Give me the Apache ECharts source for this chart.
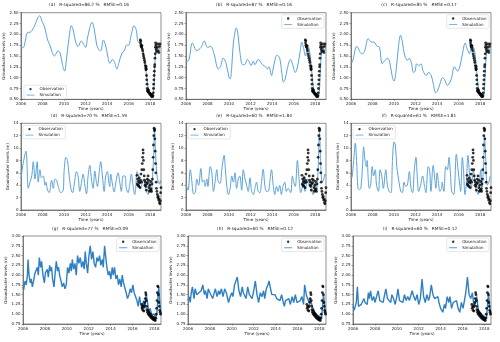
<!DOCTYPE html>
<html>
<head>
<meta charset="utf-8">
<script src="https://cdn.jsdelivr.net/npm/echarts@6/dist/echarts.min.js"></script>
<style>html,body{margin:0;padding:0;background:#fff}#c{width:500px;height:342px}</style>
</head>
<body>
<div id="c"></div>
<script>
// ---------------- DATA ----------------
const xTicks = [2006, 2008, 2010, 2012, 2014, 2016, 2018];

const titles = [
  '(a)   R-squared=86.2 %   RMSE=0.16',
  '(b)   R-squared=87 %   RMSE=0.16',
  '(c)   R-squared=85 %   RMSE=0.17',
  '(d)   R-squared=70 %   RMSE=1.59',
  '(e)   R-squared=60 %   RMSE=1.84',
  '(f)   R-squared=61 %   RMSE=1.81',
  '(g)   R-squared=77 %   RMSE=0.09',
  '(h)   R-squared=60 %   RMSE=0.12',
  '(i)   R-squared=60 %   RMSE=0.12'
];

// Observations (same well records per row)
const obsRow1 = [[2017.08,1.87],[2017.10,1.80],[2017.12,1.85],[2017.14,1.75],[2017.17,1.72],[2017.20,1.70],[2017.23,1.74],[2017.26,1.66],[2017.30,1.62],[2017.34,1.55],[2017.38,1.50],[2017.42,1.45],[2017.46,1.40],[2017.50,1.35],[2017.54,1.28],[2017.58,1.22],[2017.60,1.18],[2017.62,1.26],[2017.64,1.20],[2017.66,1.05],[2017.68,0.95],[2017.70,0.85],[2017.72,0.75],[2017.74,0.70],[2017.77,0.68],[2017.80,0.72],[2017.83,0.66],[2017.86,0.70],[2017.90,0.65],[2017.94,0.62],[2017.98,0.64],[2018.02,0.60],[2018.06,0.62],[2018.10,0.58],[2018.14,0.56],[2018.18,0.60],[2018.22,0.56],[2018.26,0.58],[2018.28,0.65],[2018.30,0.75],[2018.32,0.85],[2018.34,0.95],[2018.36,1.05],[2018.38,1.15],[2018.40,1.25],[2018.42,1.30],[2018.44,1.45],[2018.46,1.55],[2018.48,1.70],[2018.50,1.80],[2018.53,1.75],[2018.56,1.65],[2018.60,1.60],[2018.65,1.70],[2018.70,1.78],[2018.75,1.62],[2018.80,1.58],[2018.85,1.72],[2018.90,1.78]];

const obsRow2 = [[2016.77,5.6],[2016.80,4.2],[2016.83,5.0],[2016.86,4.0],[2016.90,4.6],[2016.94,3.8],[2016.98,5.2],[2017.02,4.4],[2017.06,3.6],[2017.10,4.8],[2017.14,5.8],[2017.18,4.5],[2017.22,6.5],[2017.26,7.5],[2017.30,8.5],[2017.33,9.7],[2017.35,9.2],[2017.37,8.0],[2017.40,6.5],[2017.44,5.5],[2017.48,4.8],[2017.52,4.0],[2017.56,4.5],[2017.60,3.8],[2017.64,3.2],[2017.68,4.2],[2017.72,5.0],[2017.76,4.4],[2017.80,5.5],[2017.84,4.8],[2017.88,3.6],[2017.92,3.0],[2017.96,4.0],[2018.00,3.2],[2018.04,4.6],[2018.08,3.4],[2018.12,3.0],[2018.16,4.2],[2018.20,5.0],[2018.24,6.5],[2018.27,8.5],[2018.30,10.5],[2018.33,12.0],[2018.36,13.2],[2018.39,12.8],[2018.41,13.0],[2018.43,11.5],[2018.46,9.5],[2018.49,7.5],[2018.52,6.0],[2018.55,4.5],[2018.58,3.5],[2018.62,3.0],[2018.66,2.5],[2018.70,2.0],[2018.74,2.2],[2018.78,1.6],[2018.82,1.8],[2018.86,1.2],[2018.90,1.0],[2018.94,1.5],[2018.97,2.8],[2019.0,3.6]];

const obsRow3 = [[2016.85,1.25],[2016.88,1.15],[2016.92,1.20],[2016.96,1.10],[2017.00,1.18],[2017.04,1.08],[2017.08,1.22],[2017.12,1.30],[2017.16,1.40],[2017.20,1.55],[2017.23,1.50],[2017.26,1.35],[2017.29,1.20],[2017.32,1.12],[2017.36,1.05],[2017.40,1.10],[2017.44,1.00],[2017.48,1.05],[2017.52,0.98],[2017.56,1.02],[2017.60,0.95],[2017.64,1.00],[2017.68,0.92],[2017.72,0.96],[2017.76,0.90],[2017.80,0.94],[2017.84,0.88],[2017.88,0.92],[2017.92,0.86],[2017.96,0.90],[2018.00,0.85],[2018.04,0.88],[2018.08,0.84],[2018.12,0.90],[2018.16,1.00],[2018.20,1.15],[2018.24,1.35],[2018.27,1.55],[2018.30,1.72],[2018.33,1.70],[2018.36,1.50],[2018.40,1.30],[2018.44,1.20],[2018.48,1.10],[2018.52,1.05],[2018.56,1.00]];

// Simulations
const simA = [[2006.0,1.70],[2006.2,1.69],[2006.4,1.85],[2006.6,2.04],[2006.85,2.05],[2007.05,2.10],[2007.3,2.22],[2007.55,2.38],[2007.75,2.43],[2007.95,2.30],[2008.15,2.20],[2008.35,2.00],[2008.5,1.85],[2008.7,1.74],[2008.9,1.58],[2009.1,1.50],[2009.45,1.62],[2009.65,1.55],[2009.85,1.30],[2010.05,1.15],[2010.2,1.38],[2010.45,1.90],[2010.68,2.20],[2010.85,2.10],[2011.05,1.85],[2011.3,1.72],[2011.6,1.85],[2011.75,1.80],[2012.0,1.70],[2012.2,1.95],[2012.6,2.28],[2012.8,2.12],[2013.0,1.80],[2013.2,1.65],[2013.4,1.62],[2013.65,1.87],[2013.85,1.75],[2014.05,1.50],[2014.25,1.33],[2014.5,1.42],[2014.7,1.35],[2014.9,1.20],[2015.1,1.35],[2015.35,1.55],[2015.6,1.63],[2015.8,1.75],[2016.0,1.75],[2016.2,1.95],[2016.5,2.20],[2016.7,2.10],[2016.9,1.82],[2017.1,1.82],[2017.3,1.65],[2017.5,1.35],[2017.7,0.95],[2017.9,0.68],[2018.1,0.60],[2018.3,0.62],[2018.45,1.40],[2018.6,1.72],[2018.8,1.65],[2018.95,1.75]];

const simB = [[2006.0,1.37],[2006.25,1.40],[2006.6,1.80],[2007.0,1.62],[2007.4,1.70],[2007.7,1.85],[2008.0,1.70],[2008.3,1.72],[2008.6,1.55],[2009.0,1.20],[2009.2,1.25],[2009.45,1.45],[2009.7,1.35],[2010.0,1.00],[2010.1,0.97],[2010.25,1.25],[2010.4,1.80],[2010.68,2.15],[2010.8,2.05],[2011.0,1.60],[2011.25,1.30],[2011.45,1.30],[2011.7,1.42],[2011.85,1.38],[2012.05,1.28],[2012.25,1.38],[2012.4,1.30],[2012.7,1.42],[2013.1,1.30],[2013.4,1.25],[2013.55,1.20],[2013.7,1.25],[2013.95,1.05],[2014.05,1.15],[2014.3,1.45],[2014.45,1.52],[2014.7,1.45],[2014.9,1.10],[2015.05,0.90],[2015.2,0.95],[2015.4,1.20],[2015.7,1.42],[2015.9,1.30],[2016.15,1.12],[2016.35,1.25],[2016.6,1.60],[2016.75,1.82],[2016.9,1.70],[2017.1,1.50],[2017.3,1.75],[2017.45,1.65],[2017.6,1.35],[2017.75,0.95],[2017.9,0.68],[2018.1,0.62],[2018.3,0.60],[2018.45,1.00],[2018.55,1.50],[2018.7,1.72],[2018.85,1.60],[2018.95,1.75]];

const simC = [[2006.0,1.33],[2006.15,1.38],[2006.55,1.72],[2007.0,1.55],[2007.25,1.60],[2007.6,1.90],[2007.9,1.82],[2008.15,1.82],[2008.45,1.72],[2008.6,1.72],[2008.9,1.32],[2009.1,1.38],[2009.4,1.45],[2009.6,1.35],[2009.85,1.00],[2010.0,0.92],[2010.2,1.20],[2010.4,1.70],[2010.6,1.98],[2010.75,1.85],[2011.0,1.50],[2011.25,1.40],[2011.4,1.45],[2011.6,1.35],[2011.8,1.12],[2011.95,1.15],[2012.1,1.32],[2012.3,1.28],[2012.5,1.32],[2012.7,1.15],[2013.0,1.05],[2013.2,1.12],[2013.45,1.05],[2013.65,0.85],[2013.85,0.65],[2014.0,0.68],[2014.25,0.85],[2014.5,1.00],[2014.7,0.95],[2014.95,0.82],[2015.2,0.90],[2015.35,1.00],[2015.6,1.25],[2015.9,1.15],[2016.1,1.25],[2016.35,1.55],[2016.6,1.80],[2016.8,1.65],[2017.0,1.55],[2017.2,1.75],[2017.45,1.65],[2017.6,1.35],[2017.75,0.95],[2017.9,0.68],[2018.1,0.62],[2018.3,0.60],[2018.45,1.00],[2018.55,1.50],[2018.7,1.72],[2018.85,1.60],[2018.95,1.75]];

const simD = [[2006.0,5.1],[2006.2,7.5],[2006.46,9.5],[2006.68,3.5],[2006.83,4.5],[2007.0,5.5],[2007.14,7.8],[2007.3,5.0],[2007.5,7.8],[2007.6,4.5],[2007.76,6.5],[2007.9,5.2],[2008.07,5.5],[2008.22,4.0],[2008.3,4.5],[2008.47,3.2],[2008.62,2.8],[2008.84,4.8],[2009.0,3.5],[2009.15,5.0],[2009.3,4.8],[2009.46,3.8],[2009.7,2.8],[2009.92,3.2],[2010.0,6.2],[2010.17,8.5],[2010.32,8.0],[2010.44,6.0],[2010.63,3.5],[2010.78,2.8],[2011.0,4.8],[2011.15,6.2],[2011.3,5.5],[2011.46,3.0],[2011.62,4.5],[2011.77,5.8],[2011.93,4.0],[2012.08,2.6],[2012.23,5.5],[2012.39,7.2],[2012.54,5.0],[2012.7,3.5],[2012.85,6.3],[2013.0,4.5],[2013.1,3.8],[2013.25,6.0],[2013.4,7.8],[2013.56,5.5],[2013.72,3.0],[2013.87,5.5],[2014.02,6.2],[2014.15,4.5],[2014.24,3.8],[2014.33,5.8],[2014.49,4.2],[2014.64,2.9],[2014.86,5.0],[2015.01,6.0],[2015.17,4.5],[2015.32,3.0],[2015.48,5.5],[2015.66,5.5],[2015.78,3.5],[2015.94,2.8],[2016.09,4.0],[2016.25,5.8],[2016.4,4.0],[2016.56,2.5],[2016.65,3.5],[2016.77,6.2],[2016.96,5.0],[2017.05,3.5],[2017.2,4.0],[2017.35,5.0],[2017.5,4.0],[2017.65,3.0],[2017.8,2.5],[2017.95,4.5],[2018.1,2.8],[2018.22,5.5],[2018.32,9.0],[2018.4,13.0],[2018.5,9.0],[2018.6,6.0],[2018.75,4.5],[2018.85,4.2],[2018.95,4.8],[2019.0,4.3]];

const simE = [[2006.0,4.2],[2006.18,3.2],[2006.4,6.5],[2006.55,4.5],[2006.7,2.6],[2006.86,2.8],[2007.0,5.0],[2007.17,4.0],[2007.38,6.7],[2007.54,4.5],[2007.66,4.8],[2007.78,3.8],[2007.94,5.0],[2008.03,3.8],[2008.25,7.0],[2008.4,6.0],[2008.55,3.0],[2008.7,4.5],[2008.86,6.5],[2009.0,4.5],[2009.17,4.3],[2009.32,6.5],[2009.54,8.8],[2009.66,6.5],[2009.78,4.0],[2009.94,2.5],[2010.1,3.5],[2010.25,5.5],[2010.4,4.5],[2010.55,6.0],[2010.7,3.5],[2010.86,5.0],[2011.0,5.5],[2011.17,3.2],[2011.32,6.5],[2011.48,5.0],[2011.63,4.0],[2011.78,3.0],[2011.94,5.2],[2012.1,3.0],[2012.25,2.5],[2012.4,3.5],[2012.55,4.5],[2012.7,3.0],[2012.86,2.8],[2013.0,4.3],[2013.17,6.6],[2013.32,4.0],[2013.48,3.0],[2013.63,3.0],[2013.78,4.5],[2013.94,6.5],[2014.1,4.0],[2014.25,2.5],[2014.4,3.8],[2014.55,3.0],[2014.7,4.0],[2014.86,2.5],[2015.0,3.8],[2015.17,4.5],[2015.32,3.0],[2015.48,3.5],[2015.72,2.8],[2015.88,5.5],[2016.0,4.5],[2016.15,3.8],[2016.34,8.0],[2016.5,5.0],[2016.65,2.8],[2016.77,3.5],[2016.95,5.5],[2017.05,3.0],[2017.3,5.0],[2017.45,4.0],[2017.6,3.5],[2017.8,2.5],[2018.0,4.5],[2018.1,3.0],[2018.25,6.0],[2018.4,12.5],[2018.5,8.0],[2018.65,4.5],[2018.8,5.0],[2018.9,5.8],[2019.0,5.5]];

const simF = [[2006.0,5.5],[2006.06,5.2],[2006.25,8.0],[2006.4,10.8],[2006.52,8.0],[2006.65,3.5],[2006.8,3.3],[2006.92,3.5],[2007.08,7.5],[2007.17,10.2],[2007.3,8.0],[2007.42,7.0],[2007.5,8.0],[2007.6,5.0],[2007.7,3.5],[2007.82,4.0],[2007.97,7.0],[2008.1,5.5],[2008.25,6.5],[2008.37,4.0],[2008.55,3.0],[2008.7,6.5],[2008.86,5.5],[2009.0,3.5],[2009.23,6.5],[2009.38,4.0],[2009.54,3.0],[2009.72,2.8],[2009.85,8.0],[2010.0,11.0],[2010.12,10.5],[2010.25,7.0],[2010.37,5.5],[2010.46,4.5],[2010.62,3.0],[2010.77,2.8],[2010.92,4.5],[2011.08,3.8],[2011.23,4.0],[2011.42,6.2],[2011.57,3.5],[2011.72,2.8],[2011.88,6.5],[2012.03,8.5],[2012.15,5.5],[2012.28,3.0],[2012.46,4.0],[2012.65,5.5],[2012.83,3.8],[2012.95,2.8],[2013.17,7.0],[2013.3,6.5],[2013.42,3.0],[2013.63,7.2],[2013.78,5.0],[2013.88,3.5],[2014.0,6.0],[2014.12,4.5],[2014.25,3.0],[2014.4,3.5],[2014.46,4.5],[2014.62,3.0],[2014.8,7.0],[2014.95,6.5],[2015.1,8.5],[2015.23,6.0],[2015.35,3.0],[2015.54,2.5],[2015.78,9.0],[2015.94,6.5],[2016.1,4.0],[2016.18,3.0],[2016.34,8.5],[2016.46,6.0],[2016.58,2.5],[2016.7,4.0],[2016.86,8.8],[2017.0,6.0],[2017.17,3.5],[2017.35,6.5],[2017.6,3.5],[2017.8,2.5],[2018.05,6.5],[2018.15,3.0],[2018.3,7.0],[2018.4,12.0],[2018.5,8.5],[2018.65,4.0],[2018.8,4.5],[2018.95,5.5],[2019.0,5.5]];

const simG = [[2006.0,1.70],[2006.06,1.62],[2006.18,1.85],[2006.3,1.75],[2006.4,2.0],[2006.46,2.4],[2006.55,2.0],[2006.67,1.8],[2006.76,1.9],[2006.85,1.7],[2006.97,1.85],[2007.09,2.05],[2007.22,2.1],[2007.31,2.2],[2007.4,2.0],[2007.49,2.45],[2007.61,2.2],[2007.7,2.35],[2007.82,2.0],[2007.95,1.8],[2008.04,2.05],[2008.13,2.0],[2008.22,2.15],[2008.31,1.95],[2008.43,2.25],[2008.52,2.1],[2008.61,2.2],[2008.7,1.9],[2008.83,1.7],[2008.92,2.0],[2009.04,2.35],[2009.16,2.1],[2009.25,2.2],[2009.34,2.0],[2009.47,1.85],[2009.59,1.7],[2009.71,1.8],[2009.83,1.65],[2009.95,1.75],[2010.07,2.2],[2010.19,2.05],[2010.32,2.3],[2010.41,2.1],[2010.5,2.4],[2010.62,2.15],[2010.74,2.3],[2010.86,2.0],[2010.98,2.5],[2011.1,2.3],[2011.23,2.45],[2011.35,2.2],[2011.47,2.35],[2011.59,2.15],[2011.68,2.6],[2011.78,2.3],[2011.9,2.05],[2012.02,2.5],[2012.14,2.75],[2012.26,2.4],[2012.38,2.6],[2012.5,2.3],[2012.63,2.2],[2012.75,2.45],[2012.87,2.35],[2012.99,2.5],[2013.11,2.25],[2013.23,2.4],[2013.33,2.2],[2013.45,2.75],[2013.54,2.5],[2013.66,2.2],[2013.78,2.0],[2013.9,2.1],[2014.02,1.9],[2014.15,2.2],[2014.24,2.0],[2014.36,2.2],[2014.48,1.9],[2014.6,2.0],[2014.72,1.75],[2014.84,1.9],[2014.97,1.7],[2015.06,2.0],[2015.18,1.8],[2015.3,1.85],[2015.42,1.55],[2015.54,1.4],[2015.67,1.5],[2015.79,1.65],[2015.91,1.55],[2016.03,1.75],[2016.15,1.55],[2016.27,1.6],[2016.4,1.35],[2016.52,1.2],[2016.64,1.45],[2016.76,1.25],[2016.88,1.1],[2017.0,1.35],[2017.12,1.15],[2017.25,1.5],[2017.37,1.3],[2017.49,1.05],[2017.61,1.15],[2017.73,1.0],[2017.85,0.95],[2017.98,1.0],[2018.1,0.9],[2018.22,1.0],[2018.34,1.5],[2018.4,1.7],[2018.49,1.3],[2018.58,1.0]];

const simH = [[2006.0,1.35],[2006.1,1.45],[2006.2,1.3],[2006.3,1.55],[2006.4,1.7],[2006.55,1.4],[2006.65,1.65],[2006.8,1.5],[2007.0,1.55],[2007.1,1.5],[2007.2,1.6],[2007.35,1.75],[2007.5,1.5],[2007.6,1.6],[2007.75,1.4],[2007.85,1.65],[2008.0,1.55],[2008.1,1.6],[2008.25,1.4],[2008.35,1.5],[2008.5,1.65],[2008.65,1.45],[2008.8,1.6],[2008.9,1.5],[2009.05,1.65],[2009.2,1.45],[2009.35,1.65],[2009.5,1.55],[2009.7,1.3],[2009.85,1.45],[2010.0,1.55],[2010.1,1.45],[2010.25,1.75],[2010.35,1.7],[2010.5,1.95],[2010.65,1.6],[2010.8,1.45],[2010.95,1.7],[2011.05,1.55],[2011.2,1.6],[2011.3,1.4],[2011.45,1.7],[2011.6,1.5],[2011.75,1.55],[2011.85,1.4],[2012.0,1.6],[2012.15,1.85],[2012.3,1.5],[2012.45,1.3],[2012.6,1.55],[2012.75,1.45],[2012.9,1.6],[2013.0,1.4],[2013.15,1.65],[2013.3,1.75],[2013.4,1.85],[2013.5,1.7],[2013.65,1.5],[2013.8,1.45],[2013.95,1.5],[2014.1,1.4],[2014.25,1.45],[2014.4,1.35],[2014.55,1.5],[2014.7,1.3],[2014.8,1.2],[2014.9,1.35],[2015.05,1.3],[2015.2,1.4],[2015.35,1.25],[2015.5,1.45],[2015.65,1.3],[2015.8,1.5],[2015.95,1.3],[2016.1,1.25],[2016.25,1.35],[2016.4,1.45],[2016.55,1.25],[2016.65,1.75],[2016.8,1.5],[2016.95,1.45],[2017.05,1.3],[2017.15,1.4],[2017.25,1.45],[2017.35,1.2],[2017.5,1.1],[2017.65,1.0],[2017.8,1.05],[2017.95,0.95],[2018.1,1.0],[2018.2,0.9],[2018.3,1.25],[2018.37,1.5],[2018.45,1.3],[2018.55,1.0]];

const simI = [[2006.0,1.2],[2006.1,1.1],[2006.2,1.2],[2006.3,1.3],[2006.4,1.7],[2006.5,1.2],[2006.6,1.15],[2006.75,1.25],[2006.9,1.3],[2007.0,1.4],[2007.1,1.3],[2007.2,1.35],[2007.3,1.25],[2007.4,1.55],[2007.5,1.4],[2007.6,1.6],[2007.75,1.35],[2007.9,1.45],[2008.0,1.3],[2008.15,1.45],[2008.3,1.6],[2008.45,1.35],[2008.6,1.4],[2008.75,1.3],[2008.85,1.45],[2009.0,1.65],[2009.15,1.4],[2009.3,1.45],[2009.45,1.3],[2009.55,1.5],[2009.7,1.4],[2009.85,1.25],[2010.0,1.45],[2010.1,1.65],[2010.25,1.35],[2010.4,1.4],[2010.55,1.3],[2010.7,1.5],[2010.85,1.35],[2011.0,1.45],[2011.15,1.35],[2011.3,1.5],[2011.4,1.6],[2011.55,1.45],[2011.7,1.35],[2011.85,1.5],[2012.0,1.25],[2012.15,1.4],[2012.3,1.9],[2012.45,1.45],[2012.6,1.3],[2012.75,1.5],[2012.9,1.35],[2013.0,1.45],[2013.15,1.75],[2013.3,1.5],[2013.45,1.4],[2013.6,1.35],[2013.75,1.45],[2013.85,1.3],[2014.0,1.15],[2014.1,1.2],[2014.2,1.05],[2014.35,1.25],[2014.45,1.15],[2014.6,1.45],[2014.75,1.3],[2014.85,1.45],[2015.0,1.15],[2015.15,1.3],[2015.3,1.25],[2015.45,1.35],[2015.6,1.15],[2015.75,1.05],[2015.9,1.3],[2016.05,1.15],[2016.15,1.1],[2016.3,1.55],[2016.45,1.95],[2016.6,1.5],[2016.75,1.4],[2016.9,1.55],[2017.05,1.2],[2017.2,1.3],[2017.3,1.45],[2017.45,1.1],[2017.6,1.05],[2017.75,1.0],[2017.95,0.95],[2018.1,1.0],[2018.2,0.9],[2018.3,1.3],[2018.37,1.55],[2018.45,1.25],[2018.55,1.0]];

// ---------------- LAYOUT / STYLE ----------------
const FONT = 'DejaVu Sans';
const sims = [simA, simB, simC, simD, simE, simF, simG, simH, simI];
const obsByRow = [obsRow1, obsRow2, obsRow3];
const legendPos = ['bl','tr','tr','tl','tl','tl','tr','tr','tr'];
const rowTop = [12.7, 123.3, 236];
const rowH = [86.6, 86.7, 88];
const colLeft = [[21,186,351],[21,186,351],[23,188,353]];
const colW = [140, 140, 138];
const yCfg = [
  {min:0.5, max:2.5, interval:0.25, dec:2},
  {min:0, max:14, interval:2, dec:0},
  {min:0.75, max:3.0, interval:0.25, dec:2}
];
const xMax = [2019, 2019, 2018.6];
const lineColor = ['#5aa2da','#5aa2da','#2f7fc4'];
const lineWidth = [1, 1, 1.4];
const LINE_ICON = 'path://M0,0h12v1.2h-12z';

const grids = [], xAxes = [], yAxes = [], series = [], titleArr = [], legends = [];
for (let i = 0; i < 9; i++) {
  const r = Math.floor(i / 3), c = i % 3;
  const L = colLeft[r][c], T = rowTop[r], W = colW[r], H = rowH[r];
  grids.push({left: L, top: T, width: W, height: H, show: true,
    borderColor: '#444', borderWidth: 0.6, backgroundColor: '#fff', containLabel: false});
  xAxes.push({type: 'value', gridIndex: i, min: 2006, max: xMax[r], interval: 2,
    name: 'Time (years)', nameLocation: 'middle', nameGap: 7.5,
    nameTextStyle: {fontSize: 4, fontFamily: FONT, color: '#222'},
    axisLine: {show: true, onZero: false, lineStyle: {color: '#444', width: 0.6}},
    axisTick: {show: true, length: 1.5, lineStyle: {color: '#444', width: 0.5}, customValues: xTicks},
    axisLabel: {fontSize: 4, fontFamily: FONT, color: '#222', margin: 2.5, customValues: xTicks,
      formatter: v => String(Math.round(v))},
    splitLine: {show: false}});
  const yc = yCfg[r];
  yAxes.push({type: 'value', gridIndex: i, min: yc.min, max: yc.max, interval: yc.interval,
    name: 'Groundwater levels (m)', nameLocation: 'middle', nameGap: 11,
    nameTextStyle: {fontSize: 4, fontFamily: FONT, color: '#222'},
    axisLine: {show: true, lineStyle: {color: '#444', width: 0.6}},
    axisTick: {show: true, length: 1.5, lineStyle: {color: '#444', width: 0.5}},
    axisLabel: {fontSize: 4, fontFamily: FONT, color: '#222', margin: 2.5,
      formatter: v => v.toFixed(yc.dec)},
    splitLine: {show: false}});
  series.push({type: 'line', name: 'Simulation', xAxisIndex: i, yAxisIndex: i, data: sims[i],
    symbol: 'none', smooth: r < 2 ? 0.35 : false,
    lineStyle: {color: lineColor[r], width: lineWidth[r]}, itemStyle: {color: lineColor[r]}, z: 2});
  series.push({type: 'scatter', name: 'Observation', xAxisIndex: i, yAxisIndex: i, data: obsByRow[r],
    symbol: 'circle', symbolSize: 2.8, itemStyle: {color: '#000'}, z: 3});
  titleArr.push({text: titles[i], left: L + W / 2 - 2, top: T - 7.5, textAlign: 'center',
    textVerticalAlign: 'middle', padding: 0,
    textStyle: {fontSize: 4.3, fontWeight: 'normal', fontFamily: FONT, color: '#222'}});
  const lg = {orient: 'vertical', itemWidth: 8, itemHeight: 2.4, itemGap: 2, padding: [1.8, 2.5],
    borderColor: '#ccc', borderWidth: 0.5, borderRadius: 1.5, backgroundColor: '#fff',
    textStyle: {fontSize: 4, fontFamily: FONT, color: '#222'},
    data: [{name: 'Observation', icon: 'circle'},
           {name: 'Simulation', icon: LINE_ICON, itemStyle: {color: lineColor[r]}}]};
  const p = legendPos[i];
  if (p === 'bl') { lg.left = L + 3; lg.top = T + H - 14; }
  else if (p === 'tl') { lg.left = L + 2; lg.top = T + 2; }
  else { lg.right = 500 - (L + W) + 2; lg.top = T + 2; }
  legends.push(lg);
}

const chart = echarts.init(document.getElementById('c'), null, {renderer: 'canvas'});
chart.setOption({
  animation: false,
  backgroundColor: '#fff',
  title: titleArr,
  legend: legends,
  grid: grids,
  xAxis: xAxes,
  yAxis: yAxes,
  series: series
});
</script>
</body>
</html>
